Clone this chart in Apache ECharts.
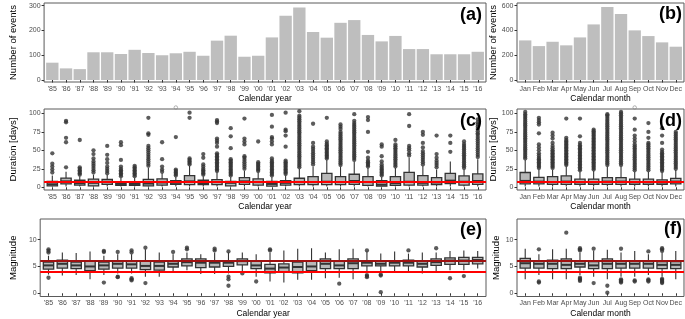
<!DOCTYPE html>
<html><head><meta charset="utf-8">
<script src="https://cdn.jsdelivr.net/npm/echarts@6/dist/echarts.min.js"></script>
<style>html,body{margin:0;padding:0;background:#fff}#c{width:685px;height:319px}</style>
</head><body><div id="c"></div><script>
// ---------- DATA ----------
const years = ["'85","'86","'87","'88","'89","'90","'91","'92","'93","'94","'95","'96","'97","'98","'99","'00","'01","'02","'03","'04","'05","'06","'07","'08","'09","'10","'11","'12","'13","'14","'15","'16"];
const months = ['Jan','Feb','Mar','Apr','May','Jun','Jul','Aug','Sep','Oct','Nov','Dec'];

const eventsPerYear = [70,47,44,112,112,105,122,109,100,108,114,98,159,179,94,98,172,260,293,194,171,231,242,182,156,178,125,125,104,104,104,114];
const eventsPerMonth = [320,274,309,280,344,449,589,533,401,355,304,269];

// [lower whisker, Q1, median, Q3, upper whisker]
const durationByYear = [
 [1,2,4,8,16],[1,4.5,8,12.5,21],[1,3,5.5,9.5,15],[1,1.8,6,11,17],[1,4,7,10.5,17],
 [1,2.5,4.5,7.6,13],[1,2.5,4.5,7.6,13],[1,2,5,10.8,26],[1,3,6.5,11.3,19],[1,4,6,9,14],
 [1,3.5,8,15.8,29],[1,3.5,5.5,9.5,15],[1,3.5,7,10.3,20],[1,2,6,8,14],[1,4,8,13.1,22],
 [1,3,7,11.3,20],[1,1.5,4.5,8,14],[1,3,6,9,16],[1,3.5,7,12.2,25],[1,3.5,7,14.4,28],
 [1,3.5,7.5,18.9,37],[1,3.5,7,14.4,28],[1,4,8.5,17.6,35],[1,2.5,7,14.4,26],[1,1.5,3.5,9,14],
 [1,2.5,5.5,14.4,26],[1,3,7.5,20.3,40],[1,3,6,15.8,29],[1,3.5,6.5,13.1,24],[1,5,9,18.9,35],
 [1,3,7.5,15.4,24],[1,4,8.5,18.1,38]
];
const durationOutliersByYear = [
 [20,24,28,32,46],
 [27,61,67,88,90],
 [17,19,21,23,25,27,64],
 [20,23,26,29,32,35,39,45,50],
 [19,22,25,28,33,38,44,56],
 [15,17,19,21,23,25,28,37,57,61],
 [15,17,19,21,23,25,27,29],
 [29,32,35,38,41,44,47,50,53,56,71,73,94],
 [21,24,28,38,61],
 [16,18,20,22,24,68],
 [31,33,35,37,39,94,101],
 [17,19,21,23,25,28,31,40,45],
 [22,24,26,28,30,32,34,36,38,40,42,44,46,55,60,63,66,87,89,91],
 [16,18,20,22,24,26,28,30,32,34,36,38,53,69,80],
 [25,28,31,34,37,40,42,58,62,66,93],
 [22,24,26,28,30,32,34,62],
 [16,18,20,22,24,26,28,30,32,34,36,39,58,62,66,68,82,98],
 [18,20,22,24,26,28,30,32,34,36,55,70,76,78,101],
 [27,29.5,32,34.5,37,39.5,42,44.5,47,49.5,52,54.5,57,59.5,62,64.5,67,69.5,72,74.5,77,79.5,82,84.5,87,89.5,92,94.5,97,103],
 [31,34,37,40,43,46,49,52,55,60,86],
 [39,41,43,45,47,49,51,53,55,57,59,62,94],
 [30,32.5,35,37.5,40,42.5,45,47.5,50,52.5,55,57.5,60,62.5,65,67.5,70,72.5,75,79,82,85],
 [37,39.5,42,44.5,47,49.5,52,54.5,57,59.5,62,64.5,67,69.5,72,74.5,77,79.5,82,84.5,87,90,99],
 [28,30,32,34,36,40,48,75,91,95],
 [16,18,20,22,24,26,28,31,35,42,55,58],
 [28,30.5,33,35.5,38,40.5,43,45.5,48,50.5,53,55.5,58,64],
 [43,46,50,53,56,83,99],
 [31,34,37,40,43,46,49,54,60,71,75],
 [27,30,33,36,40,45,70],
 [48,60,70],
 [26,28.5,31,33.5,36,38.5,41,43.5,46,48.5,51,53.5,56,58.5,62],
 [41,44,47,50,53,56,59,62,65,68,71,73,76,79,82,85,88,92]
];
const durationClippedYear = [["'94",108]];

const durationByMonth = [
 [1,4.5,8.6,20,37],[1,4.5,7.7,13.5,24],[1,4,7,14.5,23.5],[1,4,7.7,15.4,28],
 [1,4,6.8,11,21],[1,4,6.8,11,22],[1,4,7.7,13,28],[1,4,7.7,13,28],
 [1,4,6.8,11,21],[1,4,6.8,11,21],[1,4,6.5,10,20],[1,4.5,7.7,12,23.5]
];
const durationOutliersByMonth = [
 [39,41.5,44,46.5,49,51.5,54,56.5,59,61.5,64,66.5,69,71.5,74,76.5,79,81.5,84,86.5,89,91.5,94,96.5,99,102],
 [26,28,30,32,34,36,38,40,43,46,50,54,58,73,85,88,91,94],
 [26,28,30,32,34,36,38,40,42,44,46,48,50,53,56,60,66,70,74],
 [30,32,34,36,38,40,42,44,46,48,50,52,54,56,58,60,62,64,67,93],
 [23,25,27,29,31,33,35,37,39,41,43,45,47,49,51,53,55,57,60,69,93],
 [24,26,28,30,32,34,36,38,40,42,44,46,48,50,52,54,56,58,60,62,64,66,68,70,72,74,76,78],
 [30,32.5,35,37.5,40,42.5,45,47.5,50,52.5,55,57.5,60,62.5,65,67.5,70,72.5,75,77.5,80,82.5,85,87.5,90,92.5,95,97.5,99],
 [30,32.5,35,37.5,40,42.5,45,47.5,50,52.5,55,57.5,60,62.5,65,67.5,70,72.5,75,77.5,80,82.5,85,87.5,90,92.5,95,97.5,100,102],
 [23,25.5,28,30.5,33,35.5,38,40.5,43,45.5,48,50.5,53,55.5,58,62,66,70,78,93],
 [23,25.5,28,30.5,33,35.5,38,40.5,43,45.5,48,50.5,53,55.5,58,60,67,75,87],
 [22,24,26,28,30,32,34,36,38,40,42,44,46,48,51,60,70,80],
 [25,27.5,30,32.5,35,37.5,40,42.5,45,47.5,50,52.5,55,57.5,60,62.5,65,67.5,70,72.5,75]
];
const durationClippedMonth = [['Sep',108]];

const magnitudeByYear = [
 [3.5,4.5,5.2,5.8,7.0],[3.3,4.7,5.5,6.2,7.6],[3.4,4.6,5.2,5.8,7.5],[2.6,4.2,5.0,6.0,7.8],
 [3.4,4.5,5.2,5.8,7.0],[3.7,4.7,5.5,6.0,7.3],[3.7,4.7,5.4,6.0,7.3],[3.1,4.4,5.1,6.1,8.2],
 [3.1,4.3,5.1,5.8,7.6],[4.0,4.9,5.5,6.0,7.3],[4.3,5.1,5.8,6.4,7.6],[3.6,4.8,5.7,6.4,7.3],
 [3.6,4.9,5.7,6.1,7.6],[3.7,5.0,5.7,6.0,7.6],[4.0,5.3,6.0,6.4,7.6],[3.1,4.6,5.2,6.0,7.3],
 [2.2,3.8,4.6,5.4,7.6],[2.0,4.0,4.8,5.5,8.0],[2.5,3.8,4.9,5.8,8.3],[2.5,4.2,5.0,6.0,8.4],
 [2.8,4.6,5.5,6.4,7.6],[2.9,4.6,5.2,6.0,8.2],[2.6,4.6,5.6,6.4,8.3],[4.0,5.1,5.7,6.1,7.8],
 [4.0,5.1,5.5,6.0,7.4],[3.9,5.1,5.7,6.1,7.8],[4.0,5.1,5.7,6.2,7.4],[3.7,4.9,5.5,6.1,7.6],
 [4.0,5.2,5.8,6.4,7.6],[4.3,5.4,6.1,6.6,7.9],[4.3,5.4,6.1,6.7,8.0],[4.6,5.5,6.2,6.7,7.9]
];
const magnitudeOutliersByYear = [
 [7.6,7.9,8.2,2.9],[],[],[],[7.7,7.9,2.0],[7.7,3.0,3.1],[7.6,8.0,2.4,2.6,2.8],[8.5,1.9],
 [],[7.7],[8.2,8.5],[],[8.0,8.3],[7.8,3.1,2.6,1.4],[3.7],[2.2],
 [8.0,8.2],[],[],[],[],[1.8],[],[8.0,3.2,3.4,3.0],
 [3.3,3.5,0.2],[],[8.0],[],[8.4],[2.8],[3.2],[]
];
const magnitudeByMonth = [
 [2.6,4.7,5.6,6.5,8.3],[3.4,4.7,5.5,6.0,7.3],[2.6,4.6,5.5,6.2,8.2],[2.6,4.6,5.3,6.4,8.3],
 [3.4,4.9,5.5,6.0,7.6],[3.1,4.6,5.2,5.9,7.9],[2.6,4.6,5.5,6.4,8.1],[3.1,4.7,5.5,6.0,7.6],
 [3.1,4.7,5.5,6.0,7.9],[3.4,4.7,5.5,6.0,7.3],[3.1,4.6,5.3,5.9,7.6],[2.6,4.6,5.3,5.9,7.9]
];
const magnitudeOutliersByMonth = [
 [],[8.2,2.2,2.0],[],[11.3],[8.0,8.2,8.4,2.3,2.5,2.7,2.9],[8.3,1.9],[1.4,0.1],[8.3,2.0,2.2,2.4,2.6],
 [2.2,2.4],[7.8,2.2,2.4,2.6],[7.9,8.2,8.4,1.9,2.1,2.3,2.5,2.7],[]
];

const eventsYearTicks = [0,100,200,300];
const eventsMonthTicks = [0,200,400,600];
const durationTicks = [0,25,50,75,100];
const magnitudeTicks = [0,5,10];
const durationRef = [7];
const magnitudeRefLow = [4];
const magnitudeRefHigh = [6];

// ---------- STYLE / LAYOUT ----------
const SANS = "'Liberation Sans',Arial,sans-serif";
const BAR = '#bebebe';
const BOXFILL = '#b8b8b8';
const DARK = '#333333';

const panels = [
 {cats:years,  l:26,  t:3,   w:460, h:79, yMin:-8,   yMax:311,  ticks:eventsYearTicks, xName:'Calendar year', yName:'Number of events'},
 {cats:months, l:517, t:3,   w:167, h:79, yMin:-16,  yMax:622,  ticks:eventsMonthTicks, xName:'Calendar month', yName:'Number of events'},
 {cats:years,  l:26,  t:109, w:460, h:81, yMin:-3.7, yMax:106,  ticks:durationTicks, xName:'Calendar year', yName:'Duration [days]'},
 {cats:months, l:517, t:109, w:167, h:81, yMin:-3.7, yMax:106,  ticks:durationTicks, xName:'Calendar month', yName:'Duration [days]'},
 {cats:years,  l:26,  t:219, w:460, h:80, yMin:-0.6, yMax:13.85,ticks:magnitudeTicks, xName:'Calendar year', yName:'Magnitude'},
 {cats:months, l:517, t:219, w:167, h:80, yMin:-0.6, yMax:13.85,ticks:magnitudeTicks, xName:'Calendar month', yName:'Magnitude'}
];

const grid = [], xAxis = [], yAxis = [], series = [], graphic = [];
panels.forEach((p, i) => {
  grid.push({left:p.l, top:p.t, width:p.w, height:p.h, show:true, borderColor:'#5a5a5a', borderWidth:1, backgroundColor:'#fff'});
  const pos = p.cats.map((c, k) => k + 1);
  xAxis.push({
    type:'value', gridIndex:i, min:0.4, max:p.cats.length + 0.6,
    axisLine:{show:false}, splitLine:{show:false},
    axisTick:{show:true, customValues:pos, length:2.5, lineStyle:{color:DARK, width:1}},
    axisLabel:{customValues:pos, formatter:v => p.cats[Math.round(v) - 1], fontFamily:SANS, fontSize:7, color:'#4d4d4d', margin:3.5, hideOverlap:false, showMinLabel:true, showMaxLabel:true},
    name:p.xName, nameLocation:'middle', nameGap:12.5, nameTextStyle:{fontFamily:SANS, fontSize:8.5, color:'#000'}
  });
  yAxis.push({
    type:'value', gridIndex:i, min:p.yMin, max:p.yMax,
    axisLine:{show:false}, splitLine:{show:false},
    axisTick:{show:true, customValues:p.ticks, length:2.5, lineStyle:{color:DARK, width:1}},
    axisLabel:{customValues:p.ticks, fontFamily:SANS, fontSize:7, color:'#4d4d4d', margin:3.5, showMinLabel:true, showMaxLabel:true},
    name:p.yName, nameLocation:'middle', nameGap:15.5, nameTextStyle:{fontFamily:SANS, fontSize:9.5, color:'#000'}
  });
});

function barRender(params, api) {
  const x = api.value(0), v = api.value(1);
  const p0 = api.coord([x - 0.45, 0]);
  const p1 = api.coord([x + 0.45, v]);
  return {type:'rect', shape:{x:p0[0], y:p1[1], width:p1[0] - p0[0], height:p0[1] - p1[1]}, style:{fill:BAR}};
}
function boxRender(params, api) {
  const x = api.value(0);
  const lo = api.coord([x, api.value(1)]);
  const q1 = api.coord([x - 0.375, api.value(2)]);
  const md = api.coord([x, api.value(3)]);
  const q3 = api.coord([x + 0.375, api.value(4)]);
  const hi = api.coord([x, api.value(5)]);
  const cx = md[0];
  const L = q1[0], R = q3[0];
  return {type:'group', children:[
    {type:'line', shape:{x1:cx, y1:q1[1], x2:cx, y2:lo[1]}, style:{stroke:DARK, lineWidth:1.1}},
    {type:'line', shape:{x1:cx, y1:q3[1], x2:cx, y2:hi[1]}, style:{stroke:DARK, lineWidth:1.1}},
    {type:'rect', shape:{x:L, y:q3[1], width:R - L, height:q1[1] - q3[1]}, style:{fill:BOXFILL, stroke:DARK, lineWidth:1.3}},
    {type:'line', shape:{x1:L, y1:md[1], x2:R, y2:md[1]}, style:{stroke:DARK, lineWidth:2}}
  ]};
}

function addBars(gi, values) {
  series.push({type:'custom', xAxisIndex:gi, yAxisIndex:gi, renderItem:barRender,
    encode:{x:0, y:1}, data:values.map((v, k) => [k + 1, v]), z:2});
}
function addBoxes(gi, stats, outliers) {
  series.push({type:'custom', xAxisIndex:gi, yAxisIndex:gi, renderItem:boxRender,
    encode:{x:0, y:[1,2,3,4,5]}, data:stats.map((s, k) => [k + 1].concat(s)), z:2});
  const pts = [];
  outliers.forEach((arr, k) => arr.forEach(v => pts.push([k + 1, v])));
  series.push({type:'scatter', xAxisIndex:gi, yAxisIndex:gi, data:pts, symbol:'circle', symbolSize:4.3,
    itemStyle:{color:DARK}, z:3, silent:true});
}
function addRef(gi, vals, color, width) {
  series.push({type:'scatter', xAxisIndex:gi, yAxisIndex:gi, data:[], z:5, silent:true,
    markLine:{silent:true, symbol:['none','none'], label:{show:false}, animation:false,
      lineStyle:{color:color, width:width, type:'solid'}, data:vals.map(v => ({yAxis:v}))}});
}
function addClipped(gi, pts, cats) {
  series.push({type:'scatter', xAxisIndex:gi, yAxisIndex:gi, clip:false, silent:true, z:6,
    data:pts.map(q => [cats.indexOf(q[0]) + 1, q[1]]), symbol:'circle', symbolSize:3.5,
    itemStyle:{color:'rgba(0,0,0,0)', borderColor:'#888', borderWidth:0.8}});
}

addBars(0, eventsPerYear);
addBars(1, eventsPerMonth);
addBoxes(2, durationByYear, durationOutliersByYear);
addRef(2, durationRef, '#ff0000', 2);
addClipped(2, durationClippedYear, years);
addBoxes(3, durationByMonth, durationOutliersByMonth);
addRef(3, durationRef, '#ff0000', 2);
addClipped(3, durationClippedMonth, months);
addBoxes(4, magnitudeByYear, magnitudeOutliersByYear);
addRef(4, magnitudeRefLow, '#ff0000', 2);
addRef(4, magnitudeRefHigh, '#a01010', 2);
addBoxes(5, magnitudeByMonth, magnitudeOutliersByMonth);
addRef(5, magnitudeRefLow, '#ff0000', 2);
addRef(5, magnitudeRefHigh, '#a01010', 2);

const labels = [['(a)',482,15.5],['(b)',682,14.5],['(c)',482,121],['(d)',682,121],['(e)',482,230.5],['(f)',682,229]];
labels.forEach(l => graphic.push({type:'text', x:l[1], y:l[2], z:100,
  style:{text:l[0], font:"bold 18px 'Liberation Sans', Arial, sans-serif", fill:'#000', textAlign:'right', textVerticalAlign:'middle'}}));

const chart = echarts.init(document.getElementById('c'), null, {renderer:'canvas'});
chart.setOption({animation:false, backgroundColor:'#fff', grid, xAxis, yAxis, series, graphic});
</script></body></html>
